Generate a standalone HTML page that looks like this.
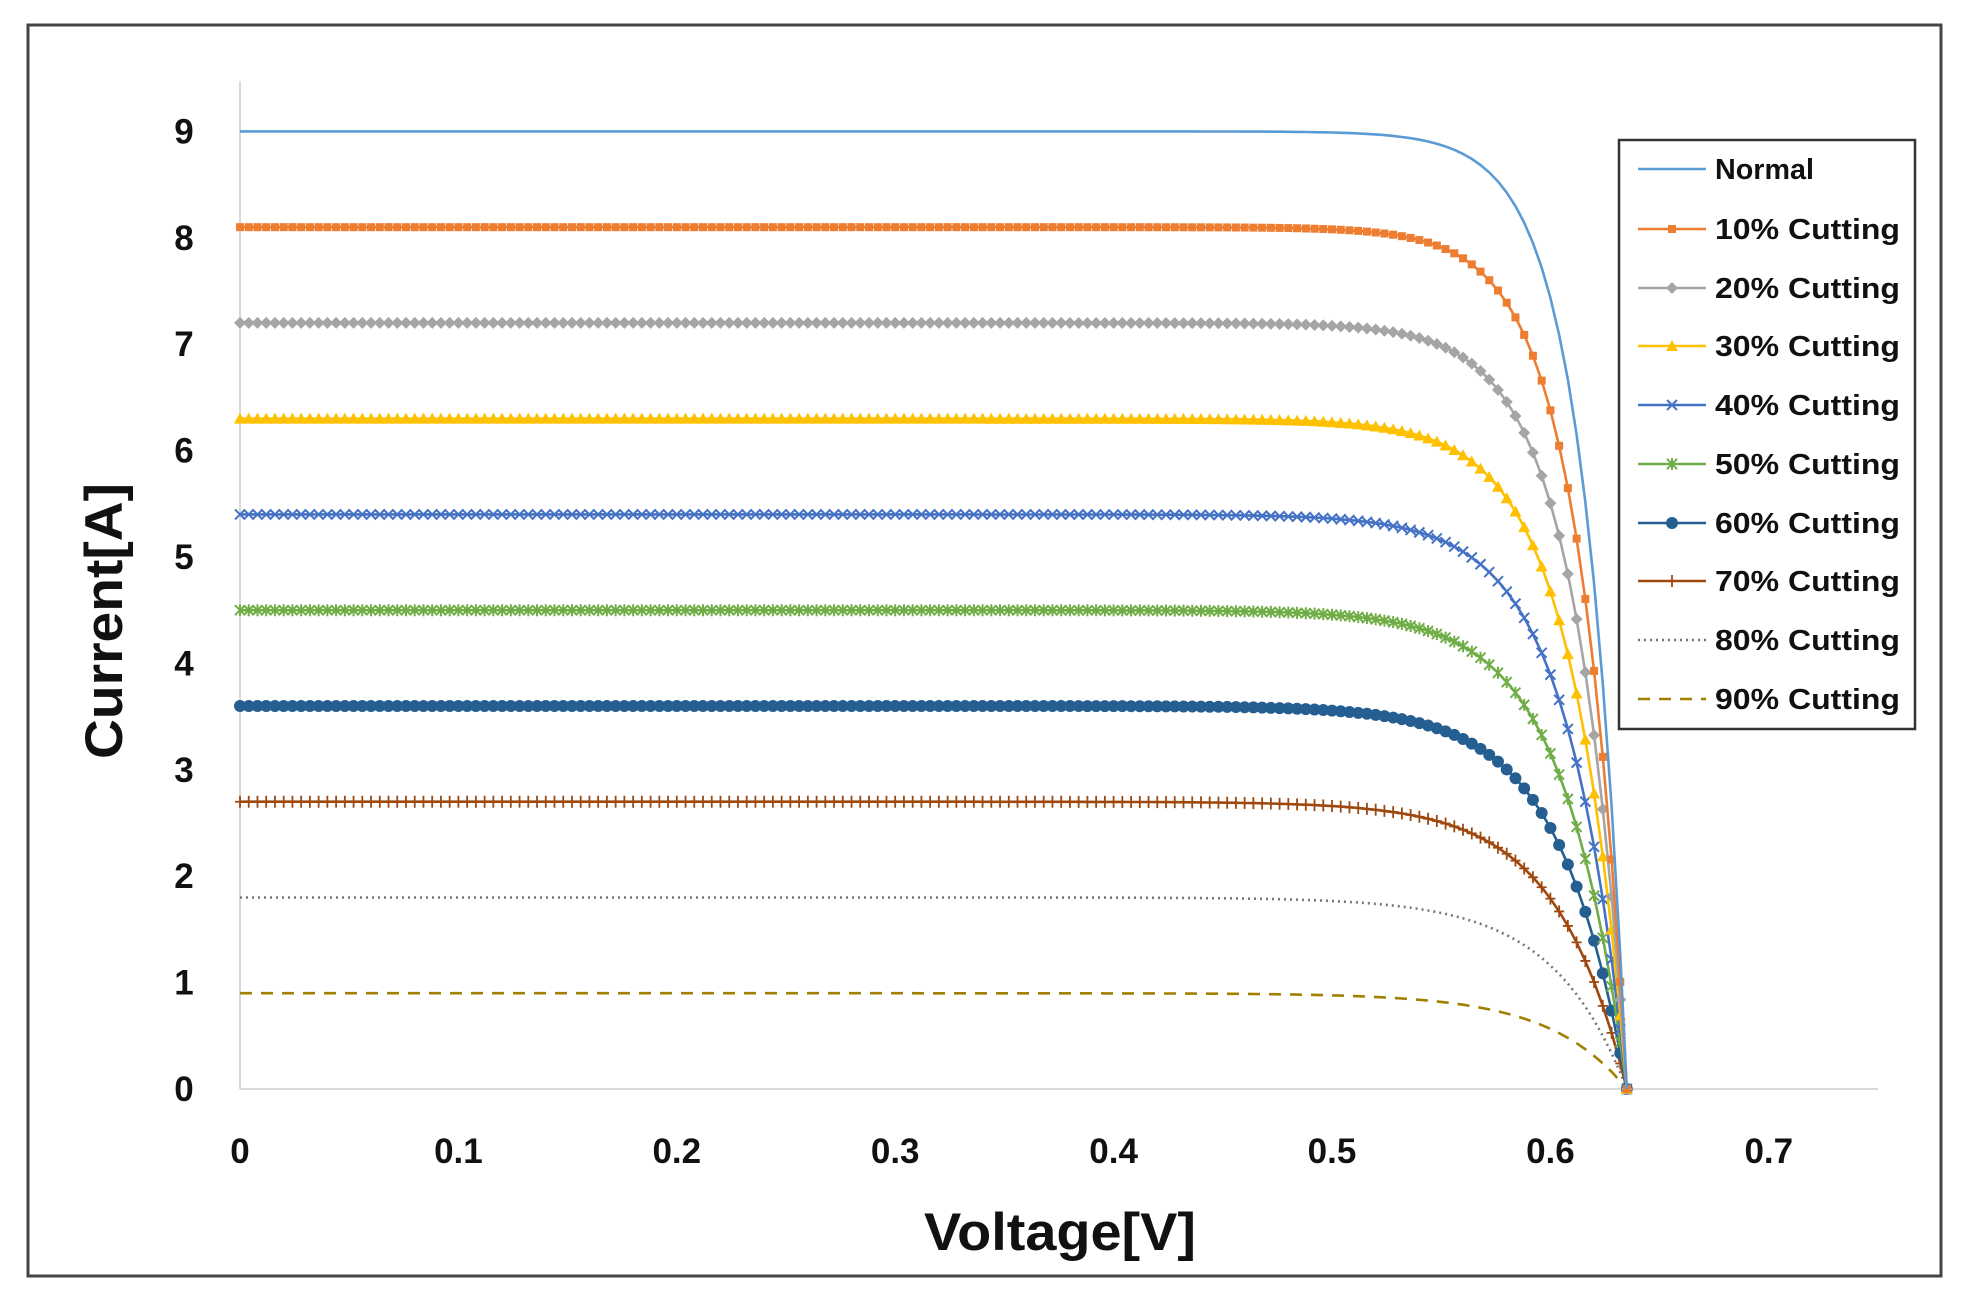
<!DOCTYPE html>
<html><head><meta charset="utf-8"><style>
html,body{margin:0;padding:0;background:#fff;}
svg{display:block;}
text{font-family:"Liberation Sans",sans-serif;font-weight:bold;fill:#111;}
</style></head><body>
<svg id="s" width="1961" height="1302" xmlns="http://www.w3.org/2000/svg">
<rect x="28" y="25" width="1913" height="1251" fill="#fff" stroke="#444" stroke-width="3"/>
<line x1="240" y1="81" x2="240" y2="1089" stroke="#d9d9d9" stroke-width="2"/>
<line x1="240" y1="1089" x2="1878" y2="1089" stroke="#d9d9d9" stroke-width="2"/>
<g id="yt" font-size="35" text-anchor="middle"></g>
<g id="xt" font-size="35" text-anchor="middle"></g>
<text x="1060" y="1250" font-size="53" text-anchor="middle" textLength="272" lengthAdjust="spacingAndGlyphs">Voltage[V]</text>
<text transform="translate(122,621) rotate(-90)" font-size="53" text-anchor="middle" textLength="276" lengthAdjust="spacingAndGlyphs">Current[A]</text>
<g id="series"></g>
<rect x="1619" y="140" width="296" height="589" fill="#fff" stroke="#333" stroke-width="2.5"/>
<g id="leg" font-size="29"></g>
</svg>
<script>
var NS="http://www.w3.org/2000/svg";
function el(p,t,a){var e=document.createElementNS(NS,t);for(var k in a)e.setAttribute(k,a[k]);p.appendChild(e);return e;}
var X=function(v){return 240+v*2184;}, Y=function(i){return 1089-i*106.4;};
var yt=document.getElementById('yt'),xt=document.getElementById('xt');
for(var i=0;i<=9;i++){el(yt,'text',{x:184,y:Y(i)+12}).textContent=i;}
for(var i=0;i<=7;i++){el(xt,'text',{x:X(i/10),y:1163}).textContent=i==0?'0':'0.'+i;}
var S=[
 {n:'Normal',c:'#5B9BD5',m:null},
 {n:'10% Cutting',c:'#ED7D31',m:'sq'},
 {n:'20% Cutting',c:'#A5A5A5',m:'di'},
 {n:'30% Cutting',c:'#FFC000',m:'tr'},
 {n:'40% Cutting',c:'#4472C4',m:'x'},
 {n:'50% Cutting',c:'#70AD47',m:'st'},
 {n:'60% Cutting',c:'#255E91',m:'ci'},
 {n:'70% Cutting',c:'#9E480E',m:'pl'},
 {n:'80% Cutting',c:'#777',m:null,d:'2 4'},
 {n:'90% Cutting',c:'#A08000',m:null,d:'12 9'}
];
var g=document.getElementById('series');
function marker(p,t,x,y,c,sz){
 var s=sz||1;
 if(t=='sq')el(p,'rect',{x:x-4*s,y:y-4*s,width:8*s,height:8*s,fill:c});
 else if(t=='di')el(p,'path',{d:'M'+x+' '+(y-6*s)+'L'+(x+6*s)+' '+y+'L'+x+' '+(y+6*s)+'L'+(x-6*s)+' '+y+'Z',fill:c});
 else if(t=='tr')el(p,'path',{d:'M'+x+' '+(y-6*s)+'L'+(x+6*s)+' '+(y+5*s)+'L'+(x-6*s)+' '+(y+5*s)+'Z',fill:c});
 else if(t=='x')el(p,'path',{d:'M'+(x-5*s)+' '+(y-5*s)+'L'+(x+5*s)+' '+(y+5*s)+'M'+(x+5*s)+' '+(y-5*s)+'L'+(x-5*s)+' '+(y+5*s),stroke:c,'stroke-width':2});
 else if(t=='st')el(p,'path',{d:'M'+(x-5*s)+' '+(y-5*s)+'L'+(x+5*s)+' '+(y+5*s)+'M'+(x+5*s)+' '+(y-5*s)+'L'+(x-5*s)+' '+(y+5*s)+'M'+x+' '+(y-6*s)+'L'+x+' '+(y+6*s),stroke:c,'stroke-width':2});
 else if(t=='ci')el(p,'circle',{cx:x,cy:y,r:6*s,fill:c});
 else if(t=='pl')el(p,'path',{d:'M'+(x-5*s)+' '+y+'L'+(x+5*s)+' '+y+'M'+x+' '+(y-6*s)+'L'+x+' '+(y+6*s),stroke:c,'stroke-width':1.8});
}
var Voc=0.635;
for(var j=S.length-1;j>=0;j--){
 var k=j/10,Isc=9*(1-k),a=(j==0?0.02:0.021+0.016*k);
 var pts=[],d='';
 var den=Math.exp(Voc/a)-1;
 var vs=[];for(var n=0;n*0.004<Voc-0.001;n++)vs.push(n*0.004);vs.push(Voc);
 vs.forEach(function(v){
  var I=Isc*(1-(Math.exp(v/a)-1)/den); if(I<0)I=0;
  pts.push([X(v),Y(I)]);
 });
 pts.forEach(function(p,i){d+=(i?'L':'M')+p[0].toFixed(1)+' '+p[1].toFixed(1);});
 var at={d:d,fill:'none',stroke:S[j].c,'stroke-width':2.6};
 if(S[j].d)at['stroke-dasharray']=S[j].d;
 el(g,'path',at);
 if(S[j].m){var gg=el(g,'g',{});pts.forEach(function(p){marker(gg,S[j].m,p[0],p[1],S[j].c);});}
}
var lg=document.getElementById('leg');
var ly=[169,229,288,346,405,464,523,581,640,699];
S.forEach(function(s,i){
 var at={x1:1638,y1:ly[i],x2:1706,y2:ly[i],stroke:s.c,'stroke-width':2.6};
 if(s.d)at['stroke-dasharray']=s.d;
 el(lg,'line',at);
 if(s.m)marker(lg,s.m,1672,ly[i],s.c);
 var t=el(lg,'text',{x:1715,y:ly[i]+10});t.textContent=s.n;
 if(i>0){t.setAttribute('textLength',185);t.setAttribute('lengthAdjust','spacingAndGlyphs');}
 else{t.setAttribute('textLength',99);t.setAttribute('lengthAdjust','spacingAndGlyphs');}
});
</script>
</body></html>
